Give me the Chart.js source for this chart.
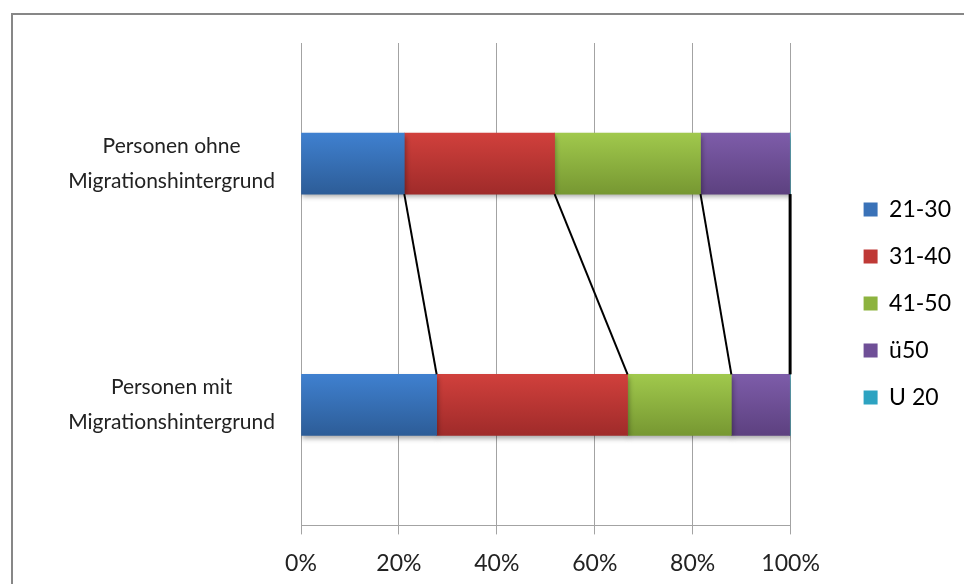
<!DOCTYPE html>
<html>
<head>
<meta charset="utf-8">
<script src="https://cdn.jsdelivr.net/npm/chart.js@4"></script>
<style>
  html, body { margin: 0; padding: 0; background: #fff; overflow: hidden; }
  #frame { position: absolute; left: 11px; top: 13px; width: 1000px; height: 700px; border: 2px solid #878787; background: #fff; }
  #wrap { position: absolute; left: 0; top: 0; width: 964px; height: 592px; }
</style>
</head>
<body>
<div id="frame"></div>
<div id="wrap"><canvas id="myChart"></canvas></div>
<script>
const categories = [["Personen ohne", "Migrationshintergrund"], ["Personen mit", "Migrationshintergrund"]];
const seriesNames = ["21-30", "31-40", "41-50", "ü50", "U 20"];
const s21_30 = [21.1, 27.7];
const s31_40 = [30.7, 39.0];
const s41_50 = [29.8, 21.2];
const sUe50 = [18.2, 11.9];
const sU20 = [0.2, 0.2];
const xTicks = [0, 20, 40, 60, 80, 100];

// top colour, bottom colour, legend colour
const colors = [
    ["#3f80cf", "#2d5d98", "#3a72b8"],
    ["#d0403c", "#a02b2a", "#bf3936"],
    ["#a0c84c", "#779832", "#8db33f"],
    ["#7d5ca9", "#5d4180", "#6f4f97"],
    ["#33b5d4", "#2590ab", "#2da3c1"]
];

function barGradient(ctx, i) {
    const chart = ctx.chart;
    const ys = chart.scales.y;
    if (!ys || ctx.dataIndex === undefined) return colors[i][2];
    const yc = ys.getPixelForValue(ctx.dataIndex);
    const g = chart.ctx.createLinearGradient(0, yc - 30, 0, yc + 30);
    g.addColorStop(0, colors[i][0]);
    g.addColorStop(1, colors[i][1]);
    return g;
}

const allSeries = [s21_30, s31_40, s41_50, sUe50, sU20];
const datasets = allSeries.map((vals, i) => ({
    label: seriesNames[i],
    data: vals,
    backgroundColor: (ctx) => barGradient(ctx, i),
    borderWidth: 0,
    barThickness: 61
}));

// drop shadow under the bars + series lines between the bars
const seriesLines = {
    id: "seriesLines",
    beforeDatasetsDraw(chart) {
        const c = chart.ctx;
        c.save();
        c.shadowColor = "rgba(0,0,0,0.35)";
        c.shadowBlur = 5;
        c.shadowOffsetY = 3;
        c.shadowOffsetX = 1;
    },
    afterDatasetsDraw(chart) {
        const c = chart.ctx;
        c.restore();
        c.save();
        c.strokeStyle = "#000";
        c.lineWidth = 2;
        chart.data.datasets.forEach((ds, d) => {
            const meta = chart.getDatasetMeta(d);
            const a = meta.data[0], b = meta.data[1];
            c.beginPath();
            c.moveTo(a.x, a.y + a.height / 2);
            c.lineTo(b.x, b.y - b.height / 2);
            c.stroke();
        });
        c.restore();
    }
};

// move legend block to where the original sits
const legendShift = {
    id: "legendShift",
    afterLayout(chart) {
        const lg = chart.legend;
        const dx = chart.chartArea.right + 49 - lg.left, dy = -14;
        lg.left += dx; lg.right += dx;
        lg.top += dy; lg.bottom += dy;
    }
};

let myChart = document.getElementById("myChart").getContext("2d");
let ageChart = new Chart(myChart, {
    type: "bar",
    data: {
        labels: categories,
        datasets: datasets
    },
    plugins: [seriesLines, legendShift],
    options: {
        indexAxis: "y",
        responsive: true,
        maintainAspectRatio: false,
        animation: false,
        layout: { padding: { top: 43, bottom: 0, left: 43, right: 52 } },
        scales: {
            x: {
                stacked: true,
                min: 0,
                max: 100,
                afterBuildTicks: (axis) => { axis.ticks = xTicks.map(v => ({ value: v })); },
                grid: { color: "#a3a3a3", lineWidth: 1, tickLength: 9, drawTicks: true },
                border: { color: "#a3a3a3" },
                ticks: {
                    padding: 15,
                    color: "#222",
                    font: { family: "Lato", size: 23 },
                    callback: (v) => v + "%"
                }
            },
            y: {
                stacked: true,
                grid: { display: false, drawTicks: false },
                border: { display: false },
                afterFit: (axis) => {
                    axis.width = 258;
                    axis.paddingTop = 0;
                    axis.paddingBottom = 0;
                },
                ticks: {
                    crossAlign: "center",
                    padding: 26,
                    color: "#222",
                    font: { family: "Lato", size: 21, lineHeight: 1.65 }
                }
            }
        },
        plugins: {
            legend: {
                position: "right",
                labels: {
                    boxWidth: 14,
                    boxHeight: 14,
                    padding: 24,
                    color: "#222",
                    font: { family: "Lato", size: 23 },
                    generateLabels: (chart) => chart.data.datasets.map((ds, i) => ({
                        text: ds.label,
                        fillStyle: colors[i][2],
                        strokeStyle: colors[i][2],
                        lineWidth: 0,
                        datasetIndex: i
                    }))
                }
            },
            tooltip: { enabled: false }
        }
    }
});
</script>
</body>
</html>
